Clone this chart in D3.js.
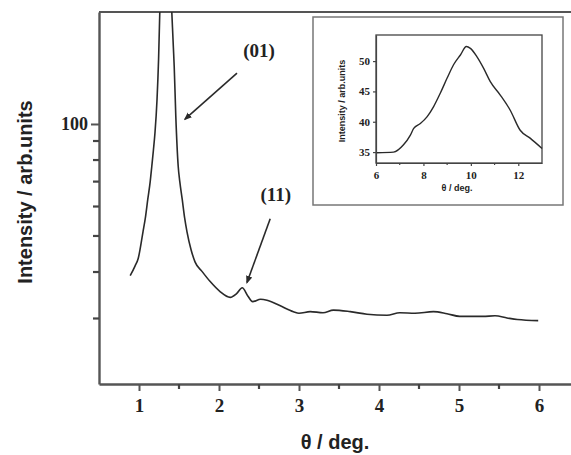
<!DOCTYPE html>
<html>
<head>
<meta charset="utf-8">
<script src="https://cdn.jsdelivr.net/npm/d3@7"></script>
<style>
  body { margin: 0; background: #fff; }
  .tickText { font-family: "Liberation Serif", "DejaVu Serif", serif; font-weight: bold; fill: #222; }
  .axisTitle { font-family: "Liberation Sans", Arial, sans-serif; font-weight: bold; fill: #222; }
</style>
</head>
<body>
<div class="chart"></div>
<script>
// main pattern (low angle region)
var thetaMain = [0.89, 0.95, 0.99, 1.05, 1.08, 1.11, 1.14, 1.16, 1.18, 1.20, 1.225, 1.245, 1.26,
  1.28, 1.32, 1.35, 1.38, 1.41, 1.43, 1.44, 1.46, 1.49, 1.51, 1.54, 1.57, 1.60, 1.65, 1.70,
  1.79, 1.89, 2.01, 2.14, 2.22, 2.29, 2.36, 2.42, 2.52, 2.60, 2.76, 2.93,
  3.00, 3.14, 3.30, 3.43, 3.64, 3.85, 4.10, 4.26, 4.45, 4.68, 4.85, 5.01, 5.30, 5.45, 5.60, 5.73, 5.99];
var intensityMain = [39.1, 41.5, 43.5, 51.3, 56, 62.8, 70, 77.0, 85, 94.9, 116, 150, 200,
  260, 340, 340, 280, 200, 160, 143, 105, 77, 70, 62.8, 56, 51.3, 46, 42.6,
  40.1, 37.7, 35.5, 34.2, 35.0, 36.3, 34.5, 33.3, 33.8, 33.6, 32.5, 31.3,
  31.0, 31.3, 31.1, 31.6, 31.3, 30.8, 30.6, 31.1, 31.0, 31.3, 30.9, 30.4, 30.4, 30.5, 30.1, 29.8, 29.6];

// inset (wide angle region)
var thetaInset = [6.04, 6.74, 7.16, 7.45, 7.59, 7.87, 8.15, 8.43, 8.71, 9.00, 9.27, 9.56, 9.81,
  9.98, 10.26, 10.54, 10.82, 11.24, 11.66, 12.08, 12.50, 13.0];
var intensityInset = [34.9, 35.0, 36.2, 37.8, 38.9, 39.7, 40.8, 42.5, 44.7, 47.2, 49.4, 51.0, 52.4,
  52.1, 50.7, 48.8, 46.6, 44.4, 41.9, 38.6, 37.3, 35.6];

// ticks
var xMajor = [1, 2, 3, 4, 5, 6];
var xMinor = [1.5, 2.5, 3.5, 4.5, 5.5];
var yMajor = [100];
var yMinor = [30, 40, 50, 60, 70, 80, 90];
var insetX = [6, 8, 10, 12];
var insetXMinor = [7, 9, 11];
var insetY = [35, 40, 45, 50];

// annotations: label position and arrow [fromTheta, fromI, toTheta, toI]
var peakLabels = ["(01)", "(11)"];
var peakLabelPos = [[2.5, 151], [2.71, 62]];
var peakArrows = [[2.225, 137, 1.575, 103], [2.64, 55.6, 2.35, 37.5]];

var svgWidth = 571;
var svgHeight = 455;

var margin = { top: 12, right: -8, bottom: 71, left: 99 };
var width = svgWidth - margin.left - margin.right;
var height = svgHeight - margin.top - margin.bottom;

var axisColor = "#555";
var lineColor = "#2a2a2a";

var svg = d3.select(".chart")
  .append("svg")
  .attr("width", svgWidth)
  .attr("height", svgHeight);

var defs = svg.append("defs");
defs.append("clipPath").attr("id", "plotClip")
  .append("rect").attr("x", 0).attr("y", 0).attr("width", width).attr("height", height);
defs.append("marker")
  .attr("id", "arrowHead")
  .attr("viewBox", "0 0 10 10")
  .attr("refX", 8).attr("refY", 5)
  .attr("markerWidth", 5).attr("markerHeight", 5)
  .attr("orient", "auto")
  .append("path").attr("d", "M0,1 L10,5 L0,9 z").attr("fill", lineColor);

var chartGroup = svg.append("g")
  .attr("transform", `translate(${margin.left}, ${margin.top})`);

var xScale = d3.scaleLinear().domain([0.5, 6.5]).range([0, width]);
var yScale = d3.scaleLog().domain([20, 200]).range([height, 0]);

// axes
function styleAxis(g) {
  g.selectAll("path, line").attr("stroke", axisColor).attr("stroke-width", 2);
  g.select(".domain").attr("stroke-width", 2.4);
}

var bottomAxis = d3.axisBottom(xScale).tickValues(xMajor).tickSize(7).tickSizeOuter(0).tickFormat(d3.format("d"));
var xAxis = chartGroup.append("g")
  .attr("transform", `translate(0, ${height})`)
  .call(bottomAxis);
xAxis.call(styleAxis);
xAxis.selectAll("text").attr("class", "tickText").attr("font-size", 19).attr("dy", "0.95em");

var leftAxis = d3.axisLeft(yScale).tickValues(yMajor).tickSize(8).tickSizeOuter(0).tickFormat(d3.format("d"));
var yAxis = chartGroup.append("g").call(leftAxis);
yAxis.call(styleAxis);
yAxis.selectAll("text").attr("class", "tickText").attr("font-size", 18).attr("x", -11);

// minor ticks
chartGroup.selectAll(".xMinorTick")
  .data(xMinor)
  .enter()
  .append("line")
  .attr("class", "xMinorTick")
  .attr("x1", d => xScale(d)).attr("x2", d => xScale(d))
  .attr("y1", height).attr("y2", height + 5)
  .attr("stroke", "#444").attr("stroke-width", 2.2);

chartGroup.selectAll(".yMinorTick")
  .data(yMinor)
  .enter()
  .append("line")
  .attr("class", "yMinorTick")
  .attr("x1", -6).attr("x2", 0)
  .attr("y1", d => yScale(d)).attr("y2", d => yScale(d))
  .attr("stroke", "#444").attr("stroke-width", 2.2);

// top frame line
chartGroup.append("line")
  .attr("x1", 0).attr("x2", width)
  .attr("y1", 0).attr("y2", 0)
  .attr("stroke", axisColor).attr("stroke-width", 2.2);

// main curve
var mainLine = d3.line()
  .x((d, i) => xScale(thetaMain[i]))
  .y(d => yScale(d))
  .curve(d3.curveMonotoneX);

chartGroup.append("path")
  .datum(intensityMain)
  .attr("clip-path", "url(#plotClip)")
  .attr("d", mainLine)
  .attr("fill", "none")
  .attr("stroke", lineColor)
  .attr("stroke-width", 1.6);

// peak labels and arrows
peakLabels.forEach(function(label, i) {
  chartGroup.append("text")
    .attr("class", "tickText")
    .attr("font-size", 19)
    .attr("text-anchor", "middle")
    .attr("x", xScale(peakLabelPos[i][0]))
    .attr("y", yScale(peakLabelPos[i][1]))
    .text(label);

  var a = peakArrows[i];
  chartGroup.append("line")
    .attr("x1", xScale(a[0])).attr("y1", yScale(a[1]))
    .attr("x2", xScale(a[2])).attr("y2", yScale(a[3]))
    .attr("stroke", lineColor)
    .attr("stroke-width", 1.6)
    .attr("marker-end", "url(#arrowHead)");
});

// axis titles
svg.append("text")
  .attr("class", "axisTitle")
  .attr("transform", "rotate(-90)")
  .attr("x", -192)
  .attr("y", 32)
  .attr("text-anchor", "middle")
  .attr("font-size", 20)
  .text("Intensity / arb.units");

svg.append("text")
  .attr("class", "axisTitle")
  .attr("x", 335)
  .attr("y", 449)
  .attr("text-anchor", "middle")
  .attr("font-size", 20)
  .text("θ / deg.");

// ---------------- inset ----------------
svg.append("rect")
  .attr("x", 313).attr("y", 17)
  .attr("width", 250).attr("height", 188)
  .attr("fill", "#fff")
  .attr("stroke", "#777")
  .attr("stroke-width", 1.5);

var inset = { left: 376, top: 35, right: 542, bottom: 163 };
var insetW = inset.right - inset.left;
var insetH = inset.bottom - inset.top;
var ix = d3.scaleLinear().domain([6, 13]).range([0, insetW]);
var iy = d3.scaleLinear().domain([33.2, 54.3]).range([insetH, 0]);

var insetGroup = svg.append("g")
  .attr("transform", `translate(${inset.left}, ${inset.top})`);

insetGroup.append("rect")
  .attr("width", insetW)
  .attr("height", insetH)
  .attr("fill", "none")
  .attr("stroke", "#444")
  .attr("stroke-width", 1.3);

var insetXAxis = insetGroup.append("g")
  .attr("transform", `translate(0, ${insetH})`)
  .call(d3.axisBottom(ix).tickValues(insetX).tickSize(3).tickSizeOuter(0).tickFormat(d3.format("d")));

var insetYAxis = insetGroup.append("g")
  .call(d3.axisLeft(iy).tickValues(insetY).tickSize(3).tickSizeOuter(0).tickFormat(d3.format("d")));

insetGroup.selectAll(".domain, .tick line").attr("stroke", "#444").attr("stroke-width", 1.2);
insetGroup.selectAll(".tick text").attr("class", "tickText").attr("font-size", 11);
insetXAxis.selectAll("text").attr("dy", "0.9em");

insetGroup.selectAll(".insetMinor")
  .data(insetXMinor)
  .enter()
  .append("line")
  .attr("class", "insetMinor")
  .attr("x1", d => ix(d)).attr("x2", d => ix(d))
  .attr("y1", insetH).attr("y2", insetH + 2)
  .attr("stroke", "#444").attr("stroke-width", 1.2);

var insetLine = d3.line()
  .x((d, i) => ix(thetaInset[i]))
  .y(d => iy(d))
  .curve(d3.curveMonotoneX);

insetGroup.append("path")
  .datum(intensityInset)
  .attr("d", insetLine)
  .attr("fill", "none")
  .attr("stroke", lineColor)
  .attr("stroke-width", 1.4);

svg.append("text")
  .attr("class", "axisTitle")
  .attr("transform", "rotate(-90)")
  .attr("x", -101)
  .attr("y", 345)
  .attr("text-anchor", "middle")
  .attr("font-size", 9)
  .text("Intensity / arb.units");

svg.append("text")
  .attr("class", "axisTitle")
  .attr("x", 457)
  .attr("y", 191)
  .attr("text-anchor", "middle")
  .attr("font-size", 9)
  .text("θ / deg.");
</script>
</body>
</html>
